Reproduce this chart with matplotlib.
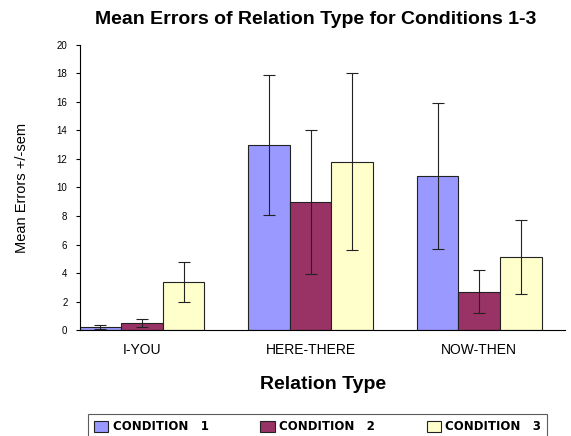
import matplotlib
matplotlib.use("Agg")
import matplotlib.pyplot as plt
import numpy as np

categories = ["I-YOU", "HERE-THERE", "NOW-THEN"]
conditions = ["CONDITION   1", "CONDITION   2", "CONDITION   3"]
means = [
    [0.2, 13.0, 10.8],
    [0.5, 9.0, 2.7],
    [3.4, 11.8, 5.1],
]
sems = [
    [0.15, 4.9, 5.15],
    [0.3, 5.05, 1.5],
    [1.4, 6.2, 2.6],
]
colors = ["#9999FF", "#993366", "#FFFFCC"]

plt.rcParams["font.family"] = ["Liberation Sans", "DejaVu Sans"]

fig = plt.figure(figsize=(5.71, 4.36), dpi=100)
ax = fig.add_axes([0.140, 0.243, 0.85, 0.654])

x = np.arange(len(categories))
w = 0.247
for i, (m, s, c) in enumerate(zip(means, sems, colors)):
    ax.bar(x + (i - 1) * w, m, width=w, color=c, edgecolor="#222222", linewidth=0.8,
           yerr=s, error_kw=dict(ecolor="#222222", elinewidth=0.8, capsize=4, capthick=0.8),
           label=conditions[i])

ax.set_xlim(-0.368, 2.51)
ax.set_ylim(0, 20)
ax.set_yticks(np.arange(0, 21, 2))
ax.tick_params(axis="y", labelsize=7, length=3, direction="out", pad=6)
ax.set_xticks(x)
ax.set_xticklabels(categories, fontsize=10)
ax.tick_params(axis="x", length=0, pad=9)
ax.spines["top"].set_visible(False)
ax.spines["right"].set_visible(False)
ax.set_ylabel("Mean Errors +/-sem", fontsize=10.5)
ax.yaxis.set_label_coords(-0.105, 0.5)
ax.set_xlabel("Relation Type", fontsize=14, fontweight="bold", labelpad=14)
fig.text(0.553, 0.955, "Mean Errors of Relation Type for Conditions 1-3",
         ha="center", va="center", fontsize=14, fontweight="bold")

leg = fig.legend(loc="lower center", bbox_to_anchor=(0.556, -0.022), ncol=3,
                 prop=dict(family="DejaVu Sans", size=8.5, weight="bold"),
                 frameon=True, fancybox=False, edgecolor="#333333",
                 handlelength=1.2, handleheight=1.1, columnspacing=4.4,
                 borderpad=0.55, handletextpad=0.35)
leg.get_frame().set_linewidth(0.8)

fig.savefig("out.png", dpi=100)
